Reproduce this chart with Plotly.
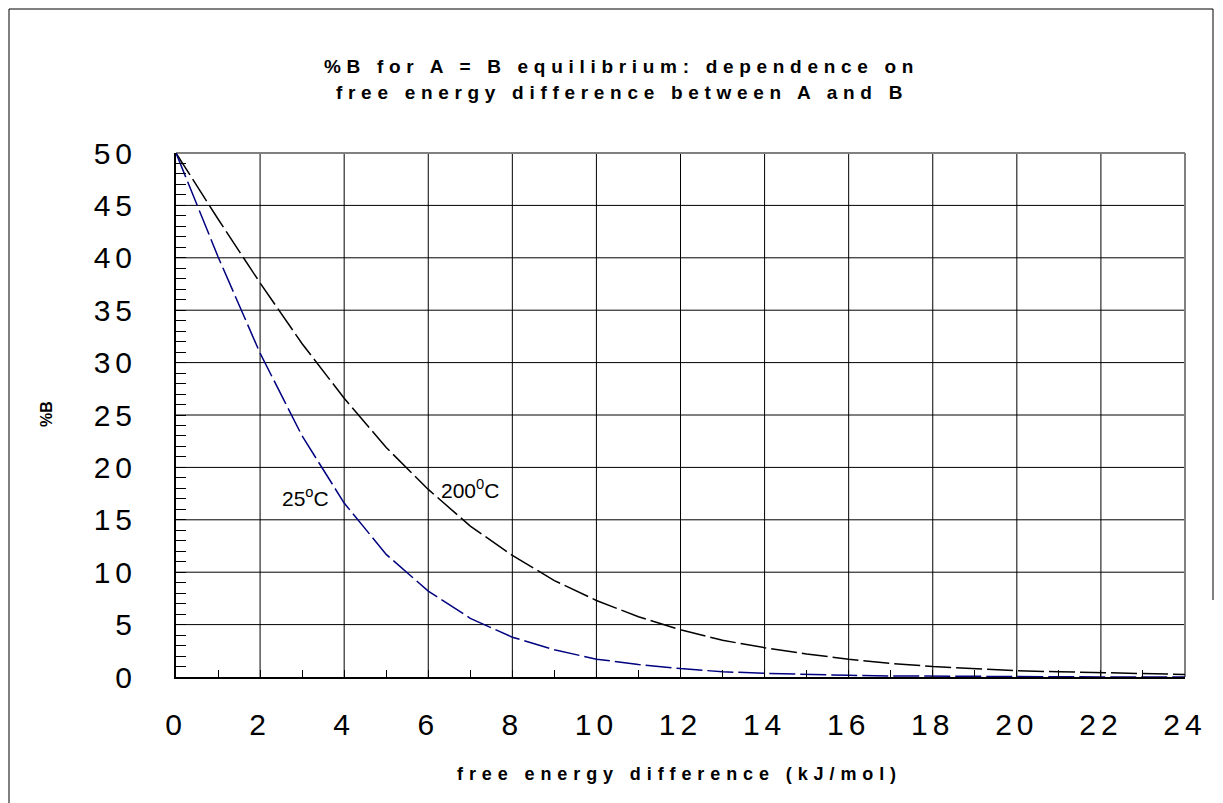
import plotly.graph_objects as go

# ---- data ----
energy_kj = [0, 1, 2, 3, 4, 5, 6, 7, 8, 9, 10, 11, 12, 13, 14, 15, 16, 17, 18, 19, 20, 21, 22, 23, 24]
pct_b_25c = [50, 40.1, 30.9, 23.0, 16.6, 11.7, 8.2, 5.6, 3.8, 2.6, 1.7, 1.2, 0.8, 0.5, 0.35,
             0.24, 0.16, 0.1, 0.07, 0.05, 0.03, 0.02, 0.01, 0.01, 0.0]
pct_b_200c = [50, 43.7, 37.6, 31.8, 26.6, 21.9, 17.9, 14.4, 11.6, 9.2, 7.3, 5.75, 4.5, 3.5, 2.8,
              2.2, 1.7, 1.3, 1.0, 0.8, 0.6, 0.5, 0.4, 0.3, 0.25]

x_tick_vals = [0, 2, 4, 6, 8, 10, 12, 14, 16, 18, 20, 22, 24]
y_tick_vals = [0, 5, 10, 15, 20, 25, 30, 35, 40, 45, 50]

title_line1 = "%B for A = B equilibrium: dependence on"
title_line2 = "free energy difference between A and B"
x_title = "free energy difference (kJ/mol)"
y_title = "%B"
label_25 = "25<sup>o</sup>C"
label_200 = "200<sup>0</sup>C"

W, H = 1223, 803
L, R, T, B = 176, 1185, 153, 677
pw, ph = R - L, B - T


def px(xp):
    return (xp - L) / pw


def py(yp):
    return (B - yp) / ph


def spaced(text, sp):
    return f"<span style='letter-spacing:{sp}px'>{text}</span>"


FONT = "Arial, Liberation Sans, sans-serif"
dash = "26px,5px"

fig = go.Figure()
fig.add_trace(go.Scatter(x=energy_kj, y=pct_b_200c, mode="lines", name="200°C",
                         line=dict(color="#000000", width=1.5, dash=dash), showlegend=False))
fig.add_trace(go.Scatter(x=energy_kj, y=pct_b_25c, mode="lines", name="25°C",
                         line=dict(color="#000080", width=1.5, dash=dash), showlegend=False))

tick_font = dict(family=FONT, size=30, color="#000000")

fig.update_xaxes(
    range=[0, 24], tickmode="array", tickvals=x_tick_vals,
    ticktext=[spaced(str(v), 5) for v in x_tick_vals],
    tickfont=tick_font, ticks="inside", ticklen=7, tickcolor="#000000", tickwidth=1,
    minor=dict(dtick=1, tick0=0, ticks="inside", ticklen=7, tickcolor="#000000", tickwidth=1, showgrid=False),
    showgrid=False, zeroline=False,
    showline=True, linecolor="#000000", linewidth=2,
    ticklabelstandoff=20,
)
fig.update_yaxes(
    range=[0, 50], tickmode="array", tickvals=y_tick_vals,
    ticktext=[spaced(str(v), 5) for v in y_tick_vals],
    tickfont=tick_font, ticks="inside", ticklen=10, tickcolor="#000000", tickwidth=1,
    minor=dict(dtick=1, tick0=0, ticks="inside", ticklen=10, tickcolor="#000000", tickwidth=1, showgrid=False),
    showgrid=False, zeroline=False,
    showline=True, linecolor="#000000", linewidth=2,
    ticklabelstandoff=31,
)

shapes = []
# interior gridlines
for v in x_tick_vals[1:-1]:
    shapes.append(dict(type="line", xref="x", yref="paper", x0=v, x1=v, y0=0, y1=1,
                       line=dict(color="#000000", width=1), layer="below"))
for v in y_tick_vals[1:-1]:
    shapes.append(dict(type="line", xref="paper", yref="y", x0=0, x1=1, y0=v, y1=v,
                       line=dict(color="#000000", width=1), layer="below"))
# top and right plot edges (grey)
shapes.append(dict(type="line", xref="paper", yref="paper", x0=0, x1=1, y0=1, y1=1,
                   line=dict(color="#808080", width=2), layer="below"))
shapes.append(dict(type="line", xref="paper", yref="paper", x0=1, x1=1, y0=0, y1=1,
                   line=dict(color="#808080", width=2), layer="below"))
# chart-area border
shapes.append(dict(type="line", xref="paper", yref="paper", x0=px(9), x1=px(9), y0=py(9), y1=py(810),
                   line=dict(color="#000000", width=1)))
shapes.append(dict(type="line", xref="paper", yref="paper", x0=px(9), x1=px(1213), y0=py(9), y1=py(9),
                   line=dict(color="#000000", width=1)))
shapes.append(dict(type="line", xref="paper", yref="paper", x0=px(1213), x1=px(1213), y0=py(9), y1=py(600),
                   line=dict(color="#000000", width=1)))

title_font = dict(family=FONT, size=19, color="#000000")
annotations = [
    dict(text="<b>" + spaced(title_line1, 5.7) + "</b>", xref="paper", yref="paper",
         x=px(621), y=py(67), showarrow=False, font=title_font, xanchor="center", yanchor="middle"),
    dict(text="<b>" + spaced(title_line2, 5.7) + "</b>", xref="paper", yref="paper",
         x=px(622), y=py(93), showarrow=False, font=title_font, xanchor="center", yanchor="middle"),
    dict(text="<b>" + spaced(x_title, 5.9) + "</b>", xref="paper", yref="paper",
         x=px(679), y=py(774), showarrow=False, font=dict(family=FONT, size=18, color="#000000"),
         xanchor="center", yanchor="middle"),
    dict(text="<b>" + y_title + "</b>", xref="paper", yref="paper", textangle=-90,
         x=px(46), y=py(414), showarrow=False, font=dict(family=FONT, size=16, color="#000000"),
         xanchor="center", yanchor="middle"),
    dict(text=label_25, xref="x", yref="y", x=3.08, y=17.2, showarrow=False,
         font=dict(family=FONT, size=21, color="#000000"), xanchor="center", yanchor="middle"),
    dict(text=label_200, xref="x", yref="y", x=7.0, y=17.9, showarrow=False,
         font=dict(family=FONT, size=21, color="#000000"), xanchor="center", yanchor="middle"),
]

fig.update_layout(
    width=W, height=H,
    margin=dict(l=L, r=W - R, t=T, b=H - B, autoexpand=False),
    paper_bgcolor="#ffffff", plot_bgcolor="#ffffff",
    shapes=shapes, annotations=annotations,
    font=dict(family=FONT, color="#000000"),
    showlegend=False,
)

fig.write_html("out.html", config={"displayModeBar": False},
               post_script="document.body.style.margin='0';")
